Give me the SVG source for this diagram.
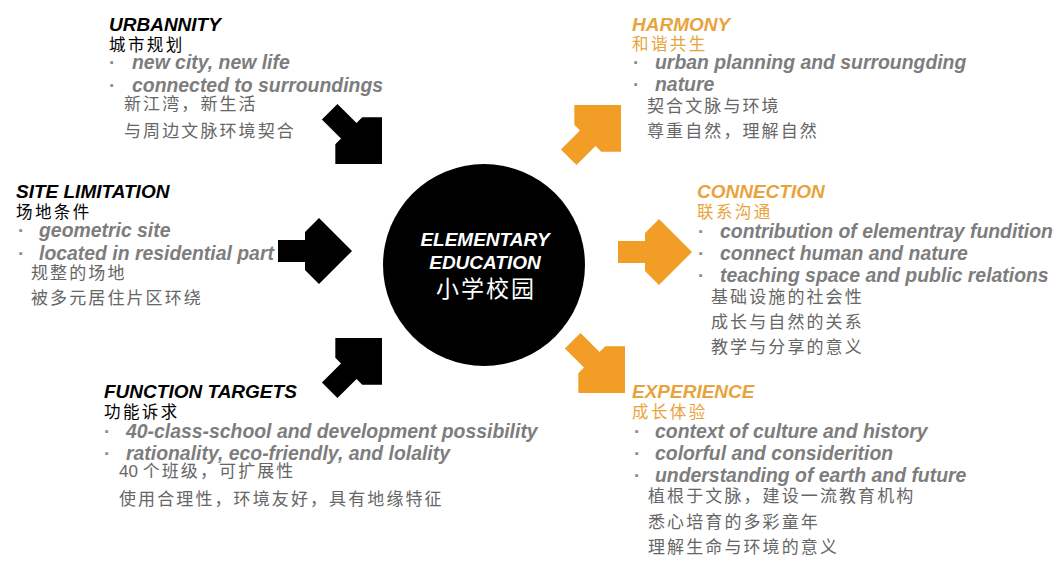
<svg xmlns="http://www.w3.org/2000/svg" xmlns:xlink="http://www.w3.org/1999/xlink" width="1058" height="572" viewBox="0 0 1058 572">
<style>
.t{font-family:"Liberation Sans",Arial,sans-serif;font-style:italic;font-weight:bold;font-size:19px;fill:#000}
.to{font-family:"Liberation Sans",Arial,sans-serif;font-style:italic;font-weight:bold;font-size:19px;fill:#E9A33C}
.ct{font-family:"Noto Sans CJK SC",sans-serif;font-size:16.5px;letter-spacing:2.4px;fill:#000}
.cto{font-family:"Noto Sans CJK SC",sans-serif;font-size:16.5px;letter-spacing:2.4px;fill:#E9A33C}
.b{font-family:"Liberation Sans",Arial,sans-serif;font-style:italic;font-weight:bold;font-size:19.4px;fill:#7d7d7d}
.d{font-family:"Liberation Sans",Arial,sans-serif;font-weight:bold;font-size:19px;fill:#8a8a8a}
.c{font-family:"Liberation Sans","Noto Sans CJK SC",sans-serif;font-size:17px;letter-spacing:2.1px;fill:#666}
.n{letter-spacing:0}
.w{font-family:"Liberation Sans",Arial,sans-serif;font-style:italic;font-weight:bold;font-size:19px;fill:#fff;text-anchor:middle}
.wc{font-family:"Noto Sans CJK SC",sans-serif;font-size:23px;letter-spacing:2px;fill:#fff;text-anchor:middle}
.k{fill:#000}
.o{fill:#F29D26}
</style>
<defs>
<path id="arr" d="M0,0 L-33,-33 L-47,-19 L-47,-11 L-74,-11 L-74,11 L-47,11 L-47,19 L-33,33 Z"/>
</defs>
<rect width="1058" height="572" fill="#fff"/>

<g id="connectors">
<use xlink:href="#arr" class="k" transform="translate(382,164) rotate(45)"/>
<use xlink:href="#arr" class="k" transform="translate(352,251)"/>
<use xlink:href="#arr" class="k" transform="translate(382,338) rotate(-45)"/>
<use xlink:href="#arr" class="o" transform="translate(621,105) rotate(-45)"/>
<use xlink:href="#arr" class="o" transform="translate(692,252)"/>
<use xlink:href="#arr" class="o" transform="translate(625,393) rotate(45)"/>
</g>

<g id="center">
<circle cx="484" cy="265" r="101" fill="#000"/>
<text class="w" x="485" y="246">ELEMENTARY</text>
<text class="w" x="485" y="269">EDUCATION</text>
<text class="wc" x="486" y="297">小学校园</text>
</g>

<g id="urbannity">
<text class="t" x="109" y="31">URBANNITY</text>
<text class="ct" x="109" y="51">城市规划</text>
<text class="d" x="109" y="69">·</text>
<text class="b" x="132" y="69">new city, new life</text>
<text class="d" x="109" y="92">·</text>
<text class="b" x="132" y="92">connected to surroundings</text>
<text class="c" x="124" y="110">新江湾，新生活</text>
<text class="c" x="124" y="137">与周边文脉环境契合</text>
</g>

<g id="site-limitation">
<text class="t" x="16" y="198">SITE LIMITATION</text>
<text class="ct" x="16" y="218">场地条件</text>
<text class="d" x="18" y="237">·</text>
<text class="b" x="39" y="237">geometric site</text>
<text class="d" x="18" y="260">·</text>
<text class="b" x="39" y="260">located in residential part</text>
<text class="c" x="31" y="279">规整的场地</text>
<text class="c" x="31" y="304">被多元居住片区环绕</text>
</g>

<g id="function-targets">
<text class="t" x="104" y="398">FUNCTION TARGETS</text>
<text class="ct" x="104" y="418">功能诉求</text>
<text class="d" x="104" y="438">·</text>
<text class="b" x="126" y="438">40-class-school and development possibility</text>
<text class="d" x="104" y="460">·</text>
<text class="b" x="126" y="460">rationality, eco-friendly, and lolality</text>
<text class="c" x="119" y="477"><tspan class="n">40 </tspan>个班级，可扩展性</text>
<text class="c" x="119" y="505">使用合理性，环境友好，具有地缘特征</text>
</g>

<g id="harmony">
<text class="to" x="632" y="31">HARMONY</text>
<text class="cto" x="632" y="50">和谐共生</text>
<text class="d" x="633" y="69">·</text>
<text class="b" x="655" y="69">urban planning and surroungding</text>
<text class="d" x="633" y="91">·</text>
<text class="b" x="655" y="91">nature</text>
<text class="c" x="647" y="112">契合文脉与环境</text>
<text class="c" x="647" y="137">尊重自然，理解自然</text>
</g>

<g id="connection">
<text class="to" x="697" y="198">CONNECTION</text>
<text class="cto" x="697" y="218">联系沟通</text>
<text class="d" x="698" y="238">·</text>
<text class="b" x="720" y="238">contribution of elementray fundition</text>
<text class="d" x="698" y="260">·</text>
<text class="b" x="720" y="260">connect human and nature</text>
<text class="d" x="698" y="282">·</text>
<text class="b" x="720" y="282">teaching space and public relations</text>
<text class="c" x="711" y="303">基础设施的社会性</text>
<text class="c" x="711" y="328">成长与自然的关系</text>
<text class="c" x="711" y="353">教学与分享的意义</text>
</g>

<g id="experience">
<text class="to" x="632" y="398">EXPERIENCE</text>
<text class="cto" x="632" y="418">成长体验</text>
<text class="d" x="634" y="438">·</text>
<text class="b" x="655" y="438">context of culture and history</text>
<text class="d" x="634" y="460">·</text>
<text class="b" x="655" y="460">colorful and considerition</text>
<text class="d" x="634" y="482">·</text>
<text class="b" x="655" y="482">understanding of earth and future</text>
<text class="c" x="648" y="502">植根于文脉，建设一流教育机构</text>
<text class="c" x="648" y="528">悉心培育的多彩童年</text>
<text class="c" x="648" y="553">理解生命与环境的意义</text>
</g>
</svg>
